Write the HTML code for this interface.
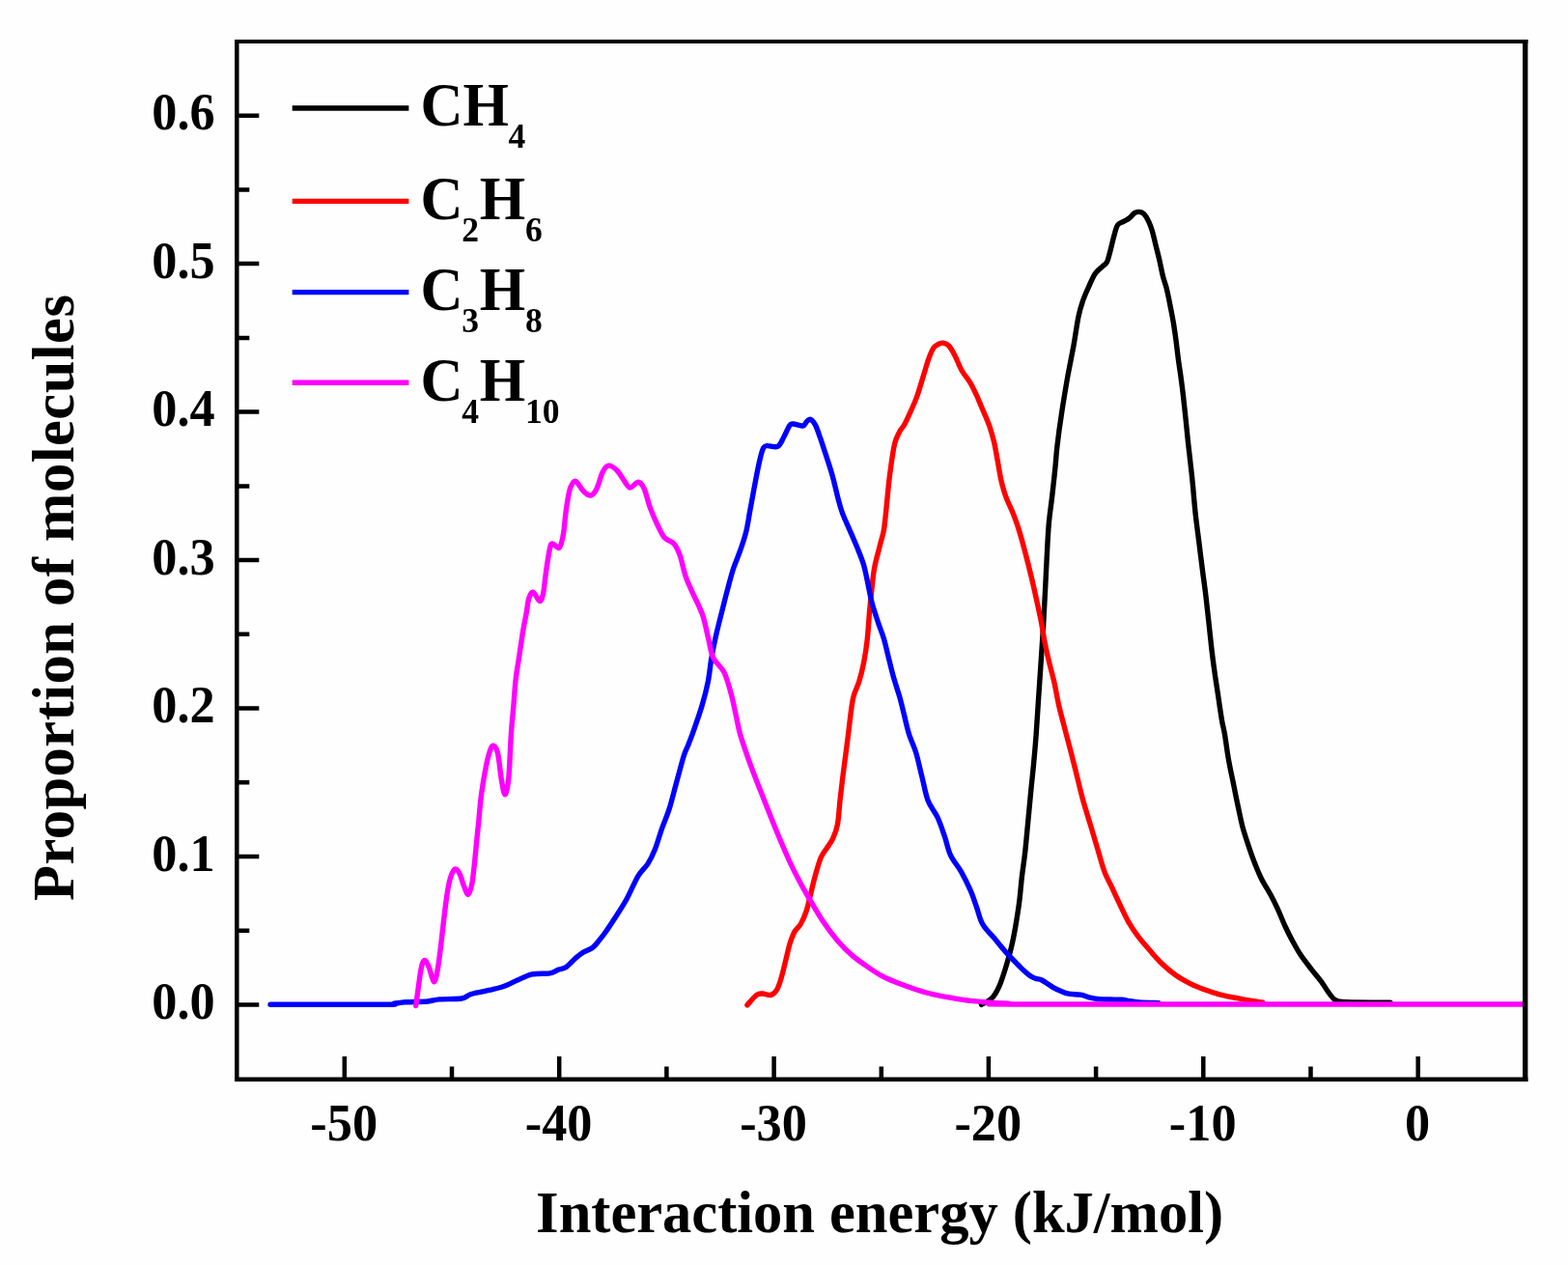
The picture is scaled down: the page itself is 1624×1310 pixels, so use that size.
<!DOCTYPE html>
<html lang="en">
<head>
<meta charset="utf-8">
<title>Interaction energy distribution</title>
<style>
html,body{margin:0;padding:0;background:#fff;}
body{width:1624px;height:1310px;overflow:hidden;}
svg{display:block;}
text{font-family:"Liberation Serif","DejaVu Serif",serif;font-weight:bold;fill:#000;}
.tick{font-size:52.3px;}
.axl{font-size:60.5px;}
.leg{font-size:61px;}
.sub{font-size:35.6px;}
.curve{fill:none;stroke-width:5.4;stroke-linejoin:round;stroke-linecap:round;}
.ax{stroke:#000;fill:none;}
</style>
</head>
<body>
<svg width="1624" height="1310" viewBox="0 0 1624 1310">
<rect x="0" y="0" width="1624" height="1310" fill="#fefefe"/>
<defs><clipPath id="plotclip"><rect x="245.3" y="43.0" width="1334.2" height="1074.7"/></clipPath></defs>
<g clip-path="url(#plotclip)">
<path class="curve" stroke="#000000" d="M1016.5,1040.3 C1018.4,1039.2 1024.5,1036.6 1027.6,1033.4 C1030.7,1030.2 1032.8,1026.0 1035.0,1021.1 C1037.2,1016.2 1039.0,1010.4 1041.1,1003.8 C1043.1,997.2 1045.4,989.5 1047.3,981.7 C1049.2,973.9 1050.8,965.2 1052.2,957.0 C1053.6,948.8 1054.9,940.6 1055.9,932.4 C1056.9,924.2 1057.5,916.0 1058.4,907.8 C1059.4,899.6 1060.6,892.2 1061.6,883.2 C1062.6,874.2 1063.5,863.9 1064.5,853.6 C1065.5,843.3 1066.5,832.3 1067.5,821.6 C1068.5,810.9 1069.8,799.9 1070.7,789.6 C1071.7,779.3 1072.4,771.0 1073.2,760.0 C1074.0,749.0 1074.8,735.6 1075.6,723.3 C1076.4,711.0 1077.3,698.6 1078.1,686.3 C1078.9,674.0 1079.8,661.7 1080.5,649.4 C1081.2,637.1 1081.9,624.3 1082.5,612.4 C1083.1,600.5 1083.6,589.4 1084.2,577.9 C1084.8,566.4 1085.3,554.1 1086.2,543.4 C1087.1,532.7 1088.6,523.8 1089.7,513.9 C1090.8,504.0 1092.1,492.7 1092.9,484.3 C1093.8,475.9 1093.7,473.0 1094.8,463.3 C1095.9,453.6 1097.9,438.6 1099.8,426.3 C1101.7,414.0 1103.9,400.9 1105.9,389.4 C1108.0,377.9 1110.2,367.6 1112.1,357.3 C1113.9,347.0 1115.4,335.6 1117.0,327.8 C1118.6,320.0 1120.1,315.8 1121.9,310.5 C1123.8,305.2 1126.0,300.3 1128.1,295.8 C1130.1,291.3 1132.0,286.7 1134.2,283.4 C1136.5,280.1 1139.5,278.2 1141.6,276.1 C1143.7,274.1 1145.2,274.0 1146.6,271.1 C1148.0,268.2 1149.0,263.3 1150.2,258.8 C1151.4,254.3 1152.7,248.3 1153.9,244.0 C1155.1,239.7 1155.9,235.4 1157.6,233.0 C1159.2,230.6 1161.7,230.5 1163.8,229.3 C1165.9,228.1 1168.2,227.1 1170.0,225.6 C1171.8,224.1 1173.3,221.6 1174.9,220.6 C1176.5,219.6 1178.2,219.3 1179.8,219.4 C1181.4,219.5 1183.0,219.8 1184.7,221.4 C1186.4,223.1 1188.3,226.4 1189.7,229.3 C1191.1,232.2 1192.1,235.0 1193.3,239.1 C1194.5,243.2 1195.8,249.0 1197.0,253.9 C1198.2,258.8 1199.5,263.4 1200.7,268.7 C1201.9,274.0 1203.2,281.0 1204.4,285.9 C1205.6,290.8 1206.9,293.3 1208.1,298.2 C1209.3,303.1 1210.6,309.3 1211.8,315.5 C1213.0,321.7 1214.5,329.1 1215.5,335.2 C1216.5,341.3 1217.2,346.2 1218.0,352.4 C1218.8,358.5 1219.6,365.9 1220.4,372.1 C1221.2,378.3 1222.1,383.2 1222.9,389.4 C1223.7,395.6 1224.6,402.1 1225.4,409.1 C1226.2,416.1 1227.0,423.4 1227.8,431.2 C1228.6,439.0 1229.5,448.1 1230.3,455.9 C1231.1,463.7 1232.0,470.6 1232.8,478.0 C1233.6,485.4 1234.3,490.6 1235.2,500.0 C1236.1,509.4 1237.2,523.6 1238.4,534.2 C1239.6,544.8 1240.9,553.9 1242.1,563.7 C1243.3,573.6 1244.6,584.3 1245.8,593.3 C1247.0,602.3 1248.0,609.3 1249.0,617.9 C1250.0,626.5 1251.0,636.0 1252.0,645.0 C1253.0,654.0 1253.9,663.5 1254.9,672.1 C1255.9,680.7 1256.9,688.5 1258.1,696.7 C1259.2,704.9 1260.6,713.2 1261.8,721.4 C1263.0,729.6 1264.4,739.6 1265.5,746.0 C1266.6,752.4 1267.3,753.6 1268.4,760.0 C1269.5,766.4 1270.7,776.4 1272.1,784.6 C1273.5,792.8 1275.3,801.1 1277.0,809.3 C1278.7,817.5 1280.3,826.1 1282.0,833.9 C1283.7,841.7 1285.1,849.1 1286.9,856.1 C1288.8,863.1 1291.0,869.6 1293.1,875.8 C1295.1,881.9 1297.0,887.3 1299.2,893.0 C1301.5,898.7 1303.7,904.5 1306.6,910.2 C1309.5,916.0 1313.6,922.1 1316.5,927.5 C1319.4,932.9 1321.3,937.0 1323.8,942.3 C1326.2,947.6 1328.7,954.2 1331.2,959.5 C1333.7,964.8 1335.9,969.4 1338.6,974.3 C1341.3,979.2 1343.9,984.2 1347.2,989.1 C1350.5,994.0 1354.8,999.3 1358.3,1003.8 C1361.8,1008.3 1365.3,1012.3 1368.2,1016.2 C1371.1,1020.1 1373.3,1024.0 1375.6,1027.2 C1377.9,1030.4 1380.1,1033.5 1382.2,1035.2 C1384.3,1036.9 1384.5,1036.8 1388.0,1037.2 C1391.5,1037.7 1394.3,1037.7 1403.0,1037.9 C1411.7,1038.1 1433.8,1038.2 1440.0,1038.3"/>
<path class="curve" stroke="#ff0000" d="M773.9,1040.8 C775.5,1039.1 781.0,1032.4 783.7,1030.4 C786.4,1028.4 787.4,1029.0 789.9,1029.0 C792.4,1029.0 796.0,1031.1 798.5,1030.4 C801.0,1029.7 802.9,1028.0 804.7,1024.8 C806.6,1021.6 808.0,1016.8 809.6,1011.2 C811.2,1005.7 813.1,997.2 814.5,991.5 C815.9,985.8 816.8,981.2 818.2,976.7 C819.7,972.2 821.4,967.7 823.2,964.4 C825.1,961.1 827.2,960.7 829.3,957.0 C831.3,953.3 833.9,947.2 835.5,942.3 C837.1,937.4 837.8,933.2 839.2,927.5 C840.6,921.8 842.3,914.4 844.1,907.8 C845.9,901.2 848.2,893.0 850.2,888.1 C852.2,883.2 854.3,881.5 856.4,878.2 C858.5,874.9 860.8,872.5 862.6,868.4 C864.5,864.3 866.3,860.2 867.5,853.6 C868.7,847.0 869.1,837.2 870.0,829.0 C870.9,820.8 871.9,812.5 872.9,804.3 C873.9,796.1 875.1,787.1 876.1,779.7 C877.1,772.3 877.4,769.4 878.6,760.0 C879.8,750.6 881.6,732.3 883.5,723.3 C885.4,714.3 887.9,712.2 889.7,706.0 C891.6,699.8 893.2,693.7 894.6,686.3 C896.0,678.9 897.3,670.7 898.3,661.7 C899.3,652.7 899.9,641.1 900.7,632.1 C901.5,623.1 902.4,614.9 903.2,607.5 C904.0,600.1 904.3,595.2 905.7,587.8 C907.1,580.4 910.2,569.8 911.8,563.2 C913.4,556.6 914.5,554.6 915.5,548.4 C916.5,542.2 917.2,534.0 918.0,526.2 C918.8,518.4 919.6,509.0 920.4,501.6 C921.2,494.2 921.9,488.9 922.9,481.9 C923.9,474.9 925.2,465.4 926.6,459.7 C928.0,453.9 929.9,450.7 931.5,447.4 C933.1,444.1 934.7,443.2 936.5,440.0 C938.3,436.8 939.9,433.2 942.1,428.4 C944.3,423.6 947.2,417.3 949.5,411.1 C951.8,404.9 953.7,398.0 955.7,391.4 C957.8,384.8 960.0,376.8 961.8,371.7 C963.6,366.6 965.1,363.1 966.7,360.6 C968.4,358.1 970.1,357.4 971.7,356.5 C973.4,355.6 974.8,354.9 976.6,355.2 C978.5,355.5 980.8,356.1 982.8,358.2 C984.8,360.3 986.6,363.7 988.9,368.0 C991.1,372.3 993.6,379.3 996.3,384.0 C999.0,388.7 1002.4,392.3 1004.9,396.4 C1007.4,400.5 1008.8,403.8 1011.1,408.7 C1013.4,413.6 1016.2,420.6 1018.5,425.9 C1020.8,431.2 1022.7,435.4 1024.6,440.7 C1026.4,446.0 1028.1,451.8 1029.6,457.9 C1031.0,464.0 1032.1,471.0 1033.3,477.6 C1034.5,484.2 1035.5,491.1 1036.9,497.3 C1038.3,503.5 1039.8,508.9 1041.9,514.6 C1044.0,520.4 1047.0,526.0 1049.3,531.8 C1051.5,537.5 1053.4,542.5 1055.4,549.1 C1057.5,555.7 1059.3,562.6 1061.6,571.2 C1063.9,579.8 1066.3,589.3 1069.0,600.8 C1071.7,612.3 1075.4,629.4 1077.6,640.0 C1079.8,650.6 1080.5,656.9 1082.0,664.7 C1083.5,672.5 1085.2,679.9 1086.9,686.9 C1088.6,693.9 1090.2,699.2 1091.9,706.6 C1093.6,714.0 1095.0,723.4 1096.8,731.2 C1098.6,739.0 1100.4,745.3 1102.5,753.4 C1104.6,761.5 1107.3,771.5 1109.5,780.0 C1111.7,788.5 1113.6,796.3 1115.6,804.4 C1117.6,812.5 1119.5,820.6 1121.7,828.8 C1124.0,836.9 1126.6,845.1 1129.1,853.3 C1131.5,861.4 1134.0,869.6 1136.4,877.7 C1138.8,885.8 1141.1,895.0 1143.7,902.1 C1146.3,909.2 1149.5,914.3 1152.3,920.4 C1155.1,926.5 1158.1,933.0 1160.8,938.7 C1163.5,944.4 1165.8,949.5 1168.7,954.6 C1171.7,959.7 1174.8,964.5 1178.5,969.4 C1182.2,974.3 1186.7,979.4 1190.8,984.1 C1194.9,988.8 1198.7,993.4 1203.2,997.7 C1207.7,1002.0 1213.0,1006.5 1217.9,1010.0 C1222.8,1013.5 1227.8,1016.1 1232.7,1018.6 C1237.6,1021.1 1242.6,1022.9 1247.5,1024.8 C1252.4,1026.6 1257.4,1028.3 1262.3,1029.7 C1267.2,1031.1 1272.1,1031.9 1277.0,1032.9 C1281.9,1033.9 1288.0,1034.9 1291.8,1035.6 C1295.6,1036.3 1297.3,1036.6 1300.0,1037.0 C1302.7,1037.4 1306.7,1038.0 1308.0,1038.2"/>
<path class="curve" stroke="#0000ff" d="M280.0,1040.2 C299.7,1040.2 376.7,1040.4 398.0,1040.2 C419.3,1040.0 404.3,1039.7 408.0,1039.3 C411.7,1038.9 414.2,1038.2 420.0,1037.8 C425.8,1037.4 437.0,1037.5 442.9,1037.0 C448.8,1036.5 449.2,1035.4 455.1,1034.9 C461.0,1034.4 472.6,1034.8 478.0,1034.0 C483.4,1033.2 483.1,1031.1 487.2,1029.8 C491.3,1028.5 496.8,1027.7 502.4,1026.4 C508.0,1025.1 515.2,1023.7 520.8,1021.8 C526.4,1019.9 530.9,1017.1 536.0,1015.0 C541.1,1012.9 545.7,1010.1 551.3,1008.9 C556.9,1007.7 565.0,1008.6 569.6,1007.8 C574.2,1007.0 576.0,1005.0 578.8,1004.0 C581.6,1003.0 583.6,1003.4 586.4,1001.5 C589.2,999.6 592.8,995.3 595.6,992.8 C598.4,990.3 600.2,988.6 603.2,986.7 C606.2,984.8 611.1,983.2 613.9,981.2 C616.7,979.2 617.9,977.0 620.0,974.5 C622.1,972.0 623.9,969.9 626.6,966.0 C629.4,962.1 632.8,957.0 636.5,951.2 C640.2,945.5 644.7,938.9 648.8,931.5 C652.9,924.1 657.4,913.0 661.1,906.9 C664.8,900.8 668.0,899.1 670.9,894.6 C673.8,890.1 675.8,886.0 678.3,879.8 C680.8,873.6 683.2,864.6 685.7,857.6 C688.2,850.6 690.6,845.7 693.1,837.9 C695.6,830.1 698.0,819.8 700.5,810.8 C703.0,801.8 705.9,790.3 707.9,783.7 C709.9,777.1 711.2,775.4 712.8,771.4 C714.3,767.4 714.8,766.8 717.2,760.0 C719.6,753.2 724.4,739.6 727.1,730.6 C729.8,721.6 731.7,714.2 733.3,706.0 C734.9,697.8 735.5,689.6 736.9,681.4 C738.3,673.2 740.0,664.9 741.9,656.7 C743.8,648.5 746.1,639.5 748.0,632.1 C749.9,624.7 751.1,619.4 753.0,612.4 C754.9,605.4 756.9,597.2 759.1,590.2 C761.4,583.2 764.2,577.1 766.5,570.5 C768.8,563.9 771.1,557.4 772.7,550.8 C774.4,544.2 775.2,537.7 776.4,531.1 C777.6,524.5 778.8,518.0 780.0,511.4 C781.2,504.8 782.5,497.8 783.7,491.7 C784.9,485.6 786.2,479.1 787.4,474.5 C788.5,469.9 789.5,466.2 790.6,464.1 C791.8,462.0 791.8,461.9 794.3,461.6 C796.8,461.3 802.5,463.8 805.4,462.4 C808.3,461.0 809.5,456.6 811.6,453.0 C813.7,449.4 816.1,443.0 817.7,440.7 C819.3,438.4 819.5,439.0 821.4,439.0 C823.2,439.0 826.9,440.4 828.8,440.7 C830.6,441.0 831.3,441.5 832.5,440.7 C833.7,439.9 835.0,436.8 836.2,435.8 C837.4,434.8 838.5,433.7 839.9,434.5 C841.3,435.3 843.1,437.4 844.8,440.7 C846.4,444.0 847.9,448.9 849.8,454.2 C851.6,459.5 853.8,466.3 855.9,472.7 C858.0,479.1 860.0,485.0 862.1,492.4 C864.2,499.8 866.5,510.6 868.2,517.0 C869.9,523.5 870.5,525.9 872.4,531.1 C874.3,536.3 877.3,542.6 879.8,548.4 C882.3,554.1 884.7,559.5 887.2,565.6 C889.7,571.8 892.6,578.3 894.6,585.3 C896.6,592.3 898.1,600.9 899.5,607.5 C900.9,614.1 901.6,618.6 903.2,624.7 C904.9,630.9 907.4,638.2 909.4,644.4 C911.4,650.6 913.7,655.5 915.5,661.7 C917.3,667.9 918.8,674.8 920.4,681.4 C922.0,688.0 923.5,694.5 925.4,701.1 C927.2,707.7 929.6,714.2 931.5,720.8 C933.4,727.4 934.9,734.0 936.5,740.5 C938.1,747.0 939.4,753.5 941.4,760.0 C943.4,766.5 946.5,772.3 948.8,779.7 C951.0,787.1 952.8,796.1 954.9,804.3 C957.0,812.5 958.4,822.0 961.1,829.0 C963.8,836.0 968.0,840.1 970.9,846.2 C973.8,852.4 976.0,859.3 978.3,865.9 C980.6,872.5 981.6,879.4 984.5,885.6 C987.4,891.8 992.1,896.7 995.6,902.9 C999.1,909.1 1002.7,916.5 1005.4,922.6 C1008.1,928.8 1009.5,934.1 1011.6,939.8 C1013.7,945.5 1014.6,951.7 1017.7,957.0 C1020.8,962.3 1025.9,966.9 1030.0,971.8 C1034.1,976.7 1038.3,982.0 1042.4,986.6 C1046.5,991.2 1051.8,996.5 1054.7,999.5 C1057.6,1002.5 1058.0,1003.0 1060.0,1004.8 C1062.0,1006.6 1064.5,1008.9 1066.5,1010.3 C1068.5,1011.7 1070.3,1012.5 1072.3,1013.2 C1074.3,1014.0 1076.5,1013.9 1078.5,1014.8 C1080.5,1015.7 1082.5,1017.2 1084.5,1018.5 C1086.5,1019.8 1088.5,1021.3 1090.8,1022.6 C1093.1,1023.9 1095.8,1025.2 1098.5,1026.3 C1101.2,1027.4 1103.4,1028.5 1106.8,1029.2 C1110.2,1029.9 1115.4,1029.6 1119.1,1030.2 C1122.8,1030.8 1125.7,1032.4 1129.0,1033.1 C1132.3,1033.8 1135.3,1034.3 1138.8,1034.6 C1142.3,1034.9 1146.1,1034.9 1150.0,1035.0 C1153.9,1035.1 1159.1,1035.1 1162.2,1035.3 C1165.3,1035.5 1165.4,1035.8 1168.4,1036.3 C1171.4,1036.8 1174.7,1037.6 1180.0,1038.0 C1185.3,1038.4 1196.7,1038.5 1200.0,1038.6"/>
<path class="curve" stroke="#ff00ff" d="M430.7,1041.5 C431.1,1038.7 432.2,1030.5 433.0,1024.9 C433.8,1019.3 434.5,1012.7 435.3,1008.1 C436.1,1003.5 436.7,999.8 437.6,997.5 C438.5,995.2 439.5,993.9 440.6,994.6 C441.7,995.4 442.9,998.3 444.4,1002.0 C445.8,1005.7 447.9,1015.8 449.3,1016.6 C450.7,1017.4 451.7,1011.8 452.8,1006.6 C453.9,1001.4 454.9,993.1 455.9,985.2 C456.9,977.3 457.9,967.9 458.9,959.2 C459.9,950.6 461.0,940.7 462.0,933.3 C463.0,925.9 463.9,920.0 465.0,915.0 C466.1,910.0 467.6,905.5 468.9,903.0 C470.2,900.5 471.4,899.7 472.7,900.2 C474.0,900.7 475.2,903.0 476.5,905.8 C477.8,908.6 478.9,913.6 480.3,917.0 C481.7,920.4 483.5,926.5 484.9,926.3 C486.3,926.1 487.7,920.7 488.7,916.0 C489.7,911.3 490.3,904.5 491.0,898.2 C491.7,891.9 492.4,884.7 493.0,878.3 C493.6,871.9 494.4,864.3 494.8,860.0 C495.2,855.7 495.0,858.8 495.6,852.7 C496.2,846.6 497.2,833.1 498.5,823.2 C499.8,813.4 501.8,801.6 503.4,793.6 C505.0,785.6 506.9,778.6 508.4,775.1 C509.8,771.6 510.9,771.7 512.1,772.7 C513.3,773.7 514.6,775.3 515.8,781.3 C517.0,787.2 518.3,801.5 519.5,808.4 C520.7,815.3 522.0,823.1 523.2,822.7 C524.4,822.3 525.8,816.1 526.8,805.9 C527.8,795.7 528.5,773.9 529.3,761.6 C530.1,749.3 531.0,741.7 531.8,732.0 C532.6,722.3 533.2,712.2 534.2,703.3 C535.2,694.4 536.7,686.8 537.9,678.6 C539.1,670.4 540.4,661.4 541.6,654.0 C542.8,646.6 544.3,640.0 545.3,634.3 C546.3,628.5 546.6,623.0 547.8,619.5 C548.9,616.0 550.4,612.8 552.2,613.3 C554.1,613.8 557.2,622.3 558.9,622.5 C560.6,622.7 561.5,619.6 562.6,614.6 C563.7,609.6 564.4,600.2 565.5,592.4 C566.6,584.6 568.4,572.7 569.5,567.8 C570.6,562.9 570.8,563.0 572.4,562.9 C574.0,562.8 577.4,568.9 579.3,567.3 C581.1,565.6 582.4,559.1 583.5,553.0 C584.6,546.9 585.0,538.2 586.0,530.8 C587.0,523.4 588.5,513.8 589.7,508.7 C590.9,503.6 592.1,501.6 593.3,500.0 C594.5,498.4 595.1,497.4 597.0,498.8 C598.9,500.2 601.9,506.3 604.4,508.7 C606.9,511.1 609.5,513.5 611.8,513.1 C614.1,512.7 616.0,510.2 618.0,506.2 C620.0,502.2 622.1,493.0 624.1,489.0 C626.1,485.0 627.8,482.4 630.3,482.1 C632.8,481.8 636.2,484.4 638.9,487.0 C641.6,489.6 644.0,494.6 646.3,497.6 C648.6,500.6 650.0,504.7 652.5,505.0 C655.0,505.3 658.6,499.1 661.1,499.3 C663.6,499.5 665.2,501.8 667.2,506.2 C669.2,510.6 671.1,519.7 673.4,525.9 C675.7,532.1 678.3,538.1 680.8,543.2 C683.3,548.3 685.3,553.4 688.2,556.7 C691.1,560.0 695.3,559.8 698.0,562.9 C700.7,566.0 702.2,569.5 704.2,575.2 C706.2,580.9 708.0,590.7 710.3,597.3 C712.5,603.9 714.8,608.0 717.7,614.6 C720.6,621.2 724.9,628.9 727.6,636.7 C730.3,644.5 731.9,654.0 733.7,661.4 C735.6,668.8 736.0,675.4 738.7,681.1 C741.4,686.9 746.7,689.8 749.8,695.9 C752.9,702.0 755.0,710.6 757.1,718.0 C759.2,725.4 760.5,733.0 762.1,740.0 C763.7,747.0 764.1,751.7 766.5,760.0 C768.9,768.3 772.7,779.3 776.4,789.6 C780.1,799.9 784.2,810.1 788.7,821.6 C793.2,833.1 798.5,846.6 803.4,858.5 C808.3,870.4 814.1,884.0 818.2,893.0 C822.3,902.0 824.6,906.1 828.1,912.7 C831.6,919.3 835.1,925.4 839.2,932.4 C843.3,939.4 848.0,947.6 852.7,954.6 C857.4,961.6 862.6,968.5 867.5,974.3 C872.4,980.0 877.4,984.8 882.3,989.1 C887.2,993.4 891.7,996.4 897.0,1000.1 C902.3,1003.8 908.5,1008.1 914.3,1011.2 C920.0,1014.3 925.8,1016.3 931.5,1018.6 C937.2,1020.9 943.0,1022.9 948.8,1024.8 C954.5,1026.6 959.9,1028.3 966.0,1029.7 C972.1,1031.1 979.1,1032.3 985.7,1033.4 C992.3,1034.5 998.8,1035.6 1005.4,1036.4 C1012.0,1037.2 1018.5,1037.7 1025.1,1038.2 C1031.7,1038.7 1037.4,1039.0 1044.8,1039.3 C1052.2,1039.6 979.5,1039.9 1069.5,1040.0 C1159.5,1040.1 1499.1,1040.0 1585.0,1040.0"/>
</g>
<path class="ax" stroke-width="4.5" d="M245.3,1040.5 H268.3 M245.3,887.0 H268.3 M245.3,733.6 H268.3 M245.3,580.1 H268.3 M245.3,426.6 H268.3 M245.3,273.1 H268.3 M245.3,119.7 H268.3 M245.3,963.8 H258.3 M245.3,810.3 H258.3 M245.3,656.8 H258.3 M245.3,503.4 H258.3 M245.3,349.9 H258.3 M245.3,196.4 H258.3 M356.8,1117.7 V1094.1 M579.2,1117.7 V1094.1 M801.6,1117.7 V1094.1 M1023.9,1117.7 V1094.1 M1246.3,1117.7 V1094.1 M1468.7,1117.7 V1094.1 M468.0,1117.7 V1104.4 M690.4,1117.7 V1104.4 M912.8,1117.7 V1104.4 M1135.1,1117.7 V1104.4 M1357.5,1117.7 V1104.4"/>
<path class="ax" stroke-width="4.5" d="M245.3,41.1 V1120.0"/>
<path class="ax" stroke-width="4.6" d="M243.1,1117.7 H1582.4"/>
<path class="ax" stroke-width="3.8" d="M243.1,43.0 H1582.4"/>
<path class="ax" stroke-width="5.4" d="M1579.7,41.1 V1120.0"/>
<text class="tick" transform="translate(222.6,1055.2) scale(1,1.045)" text-anchor="end">0.0</text>
<text class="tick" transform="translate(222.6,901.7) scale(1,1.045)" text-anchor="end">0.1</text>
<text class="tick" transform="translate(222.6,748.3) scale(1,1.045)" text-anchor="end">0.2</text>
<text class="tick" transform="translate(222.6,594.8) scale(1,1.045)" text-anchor="end">0.3</text>
<text class="tick" transform="translate(222.6,441.3) scale(1,1.045)" text-anchor="end">0.4</text>
<text class="tick" transform="translate(222.6,287.8) scale(1,1.045)" text-anchor="end">0.5</text>
<text class="tick" transform="translate(222.6,134.4) scale(1,1.045)" text-anchor="end">0.6</text>
<text class="tick" transform="translate(356.2,1181) scale(1,1.045)" text-anchor="middle">-50</text>
<text class="tick" transform="translate(578.6,1181) scale(1,1.045)" text-anchor="middle">-40</text>
<text class="tick" transform="translate(801.0,1181) scale(1,1.045)" text-anchor="middle">-30</text>
<text class="tick" transform="translate(1023.3,1181) scale(1,1.045)" text-anchor="middle">-20</text>
<text class="tick" transform="translate(1245.7,1181) scale(1,1.045)" text-anchor="middle">-10</text>
<text class="tick" transform="translate(1468.1,1181) scale(1,1.045)" text-anchor="middle">0</text>
<text class="axl" x="911.1" y="1276.4" text-anchor="middle" textLength="712" lengthAdjust="spacing">Interaction energy (kJ/mol)</text>
<text class="axl" transform="translate(75.6,619) rotate(-90)" text-anchor="middle" textLength="628" lengthAdjust="spacing">Proportion of molecules</text>
<line x1="302.7" y1="112.0" x2="423.4" y2="112.0" stroke="#000000" stroke-width="5.4"/>
<text class="leg" transform="translate(435.4,130.3) scale(1,1.025)">CH<tspan class="sub" dx="-0.4" dy="22.6">4</tspan></text>
<line x1="302.7" y1="208.4" x2="423.4" y2="208.4" stroke="#ff0000" stroke-width="5.4"/>
<text class="leg" transform="translate(435.4,226.7) scale(1,1.025)">C<tspan class="sub" dx="-1.2" dy="22.6">2</tspan><tspan dx="0.8" dy="-22.6">H</tspan><tspan class="sub" dx="-0.4" dy="22.6">6</tspan></text>
<line x1="302.7" y1="302.6" x2="423.4" y2="302.6" stroke="#0000ff" stroke-width="5.4"/>
<text class="leg" transform="translate(435.4,320.9) scale(1,1.025)">C<tspan class="sub" dx="-1.2" dy="22.6">3</tspan><tspan dx="0.8" dy="-22.6">H</tspan><tspan class="sub" dx="-0.4" dy="22.6">8</tspan></text>
<line x1="302.7" y1="396.2" x2="423.4" y2="396.2" stroke="#ff00ff" stroke-width="5.4"/>
<text class="leg" transform="translate(435.4,414.5) scale(1,1.025)">C<tspan class="sub" dx="-1.2" dy="22.6">4</tspan><tspan dx="0.8" dy="-22.6">H</tspan><tspan class="sub" dx="-0.4" dy="22.6">10</tspan></text>
</svg>
</body>
</html>
